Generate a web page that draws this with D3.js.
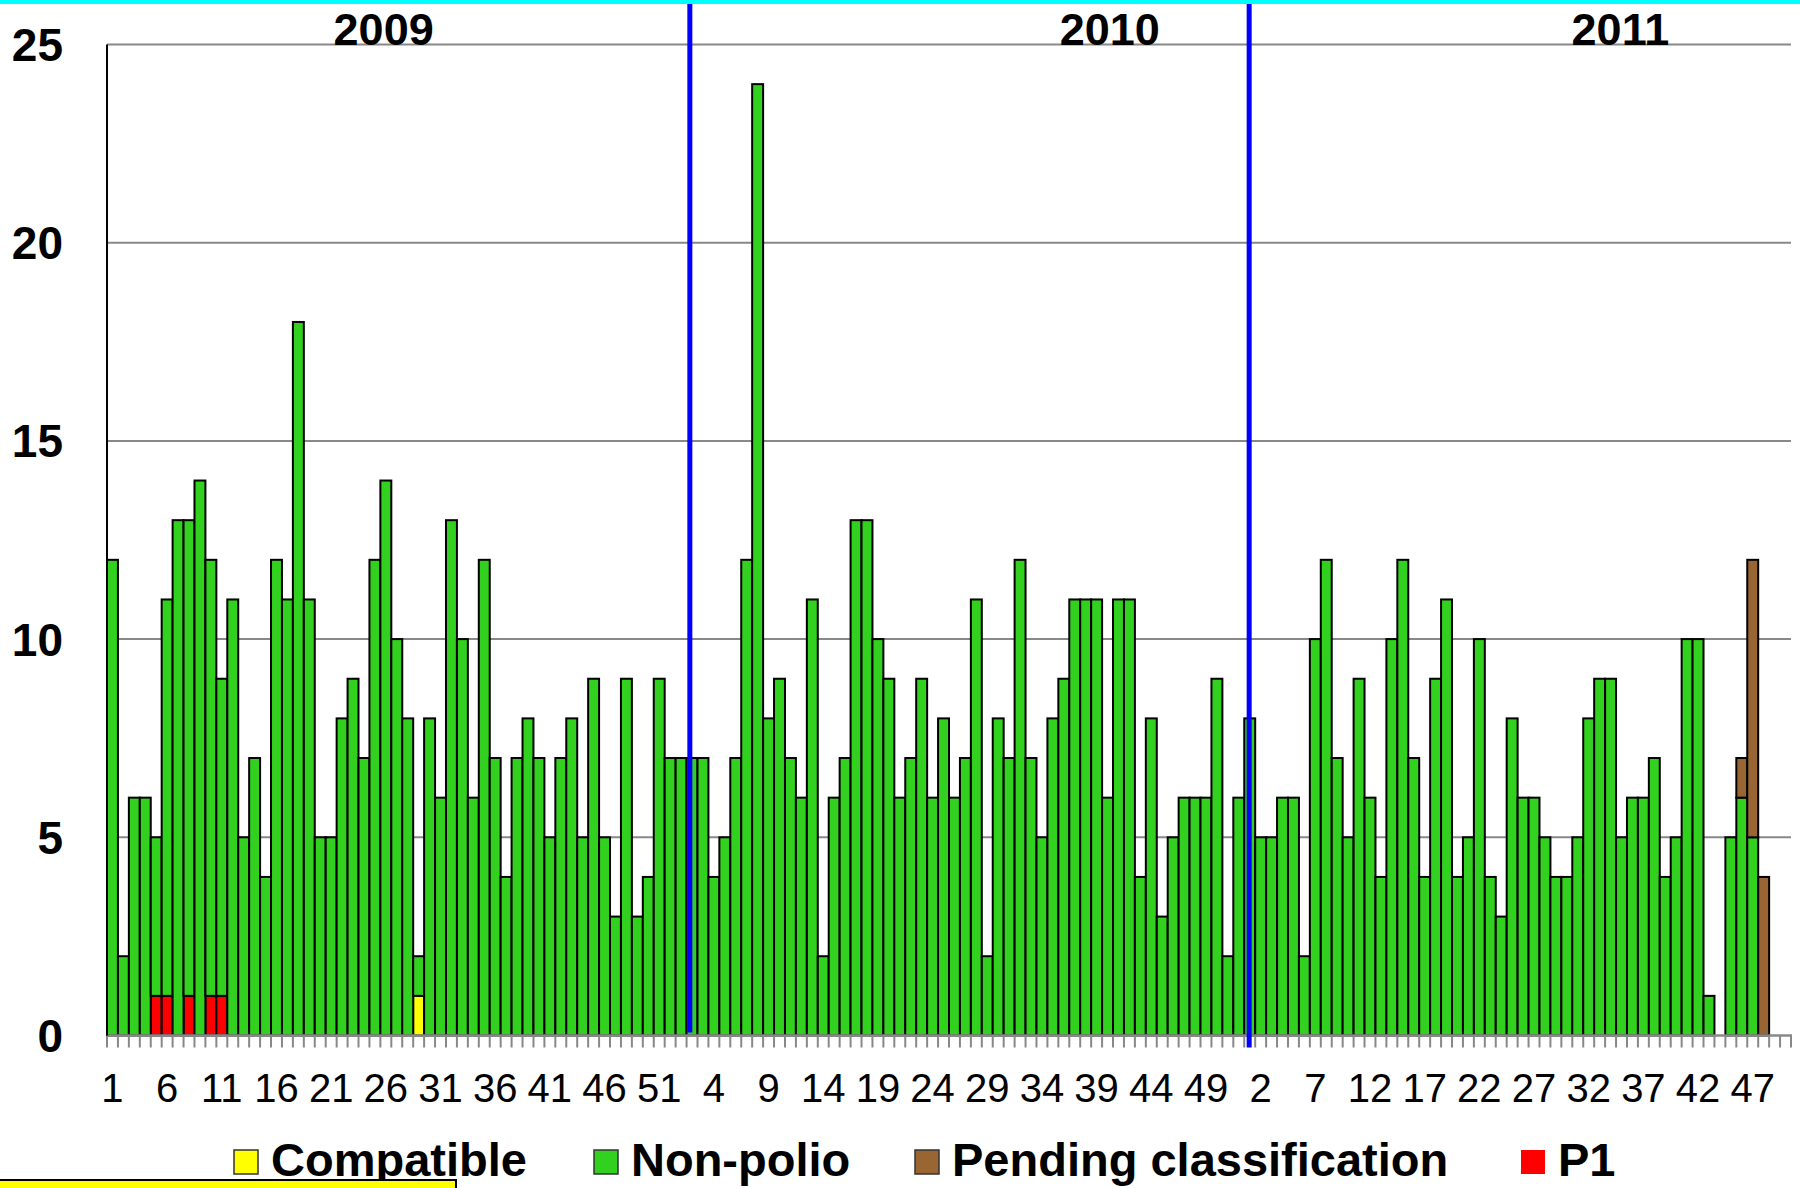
<!DOCTYPE html>
<html>
<head>
<meta charset="utf-8">
<script src="https://cdn.jsdelivr.net/npm/d3@7"></script>
<style>
  html, body { margin: 0; padding: 0; background: #fff; }
  svg { display: block; font-family: "Liberation Sans", Arial, sans-serif; }
</style>
</head>
<body>
<script>
////////////////   Data   ////////////////

var years = ["2009", "2010", "2011"],
    weeksPerYear = [52, 52, 50];

// non-polio AFP cases per epi week (green)
var nonPolio2009 = [12,2,6,6,4,10,13,12,14,11,8,11,5,7,4,12,11,18,11,5,5,8,9,7,12,14,10,8,1,8,6,13,10,6,12,7,4,7,8,7,5,7,8,5,9,5,3,9,3,4,9,7];
var nonPolio2010 = [7,7,7,4,5,7,12,24,8,9,7,6,11,2,6,7,13,13,10,9,6,7,9,6,8,6,7,11,2,8,7,12,7,5,8,9,11,11,11,6,11,11,4,8,3,5,6,6,6,9,2,6];
var nonPolio2011 = [8,5,5,6,6,2,10,12,7,5,9,6,4,10,12,7,4,9,11,4,5,10,4,3,8,6,6,5,4,4,5,8,9,9,5,6,6,7,4,5,10,10,1,0,5,6,5,0,0,0];

// the few non-green cases: [year, week, count]
var p1Cases = [["2009",5,1],["2009",6,1],["2009",8,1],["2009",10,1],["2009",11,1]];
var compatibleCases = [["2009",29,1]];
var pendingCases = [["2011",46,1],["2011",47,7],["2011",48,4]];

var yTicks = [0, 5, 10, 15, 20, 25];
var tickLabelEvery = 5;

var seriesKeys = ["p1", "compatible", "nonPolio", "pending"];   // stacking order, bottom up
var legendKeys = ["compatible", "nonPolio", "pending", "p1"];
var legendNames = {compatible: "Compatible", nonPolio: "Non-polio", pending: "Pending classification", p1: "P1"};

var colors = {
    compatible: "#FFFF00",
    nonPolio: "#33D11F",
    pending: "#996633",
    p1: "#FF0000",
    grid: "#888888",
    divider: "#0000FF",
    topBar: "#00FFFF"
};

// year dividers and year titles, in category units (hand drawn on the original)
var yearDividers = [{at: 53.3, end: -3}, {at: 104.45, end: 12}];
var yearTitleAt = [25.3, 91.7, 138.4];

////////////////   Build table   ////////////////

var nonPolioByYear = {"2009": nonPolio2009, "2010": nonPolio2010, "2011": nonPolio2011};
var rows = [];
years.forEach(function(yr, k) {
    for (var w = 1; w <= weeksPerYear[k]; w++) {
        rows.push({year: yr, week: w, p1: 0, compatible: 0, pending: 0, nonPolio: nonPolioByYear[yr][w - 1]});
    }
});
function addCases(list, key) {
    list.forEach(function(c) {
        var r = rows.find(function(d) { return d.year == c[0] && d.week == c[1]; });
        if (r) r[key] = c[2];
    });
}
addCases(p1Cases, "p1");
addCases(compatibleCases, "compatible");
addCases(pendingCases, "pending");
rows.forEach(function(d, i) { d.idx = i; });

////////////////   Layout   ////////////////

var W = 1800, H = 1188;
var plotLeft = 107, plotRight = 1791, plotTop = 44.5, plotBottom = 1035.5;

var svg = d3.select("body").append("svg")
    .attr("width", W)
    .attr("height", H);

var x = d3.scaleBand()
    .domain(rows.map(function(d) { return d.idx; }))
    .range([plotLeft, plotRight])
    .padding(0);

var y = d3.scaleLinear()
    .domain([0, 25])
    .range([plotBottom, plotTop]);

function xAt(u) { return plotLeft + u * x.step(); }

// top cyan strip
svg.append("rect")
    .attr("x", 0).attr("y", 0)
    .attr("width", W).attr("height", 4)
    .attr("fill", colors.topBar);

// gridlines
svg.append("g")
    .selectAll("line")
    .data(yTicks.filter(function(t) { return t > 0; }))
    .enter().append("line")
    .attr("x1", plotLeft).attr("x2", plotRight)
    .attr("y1", function(d) { return y(d); })
    .attr("y2", function(d) { return y(d); })
    .attr("stroke", colors.grid)
    .attr("stroke-width", 2);

// bars
var stacked = d3.stack().keys(seriesKeys)(rows);

svg.append("g")
    .selectAll("g")
    .data(stacked)
    .enter().append("g")
    .attr("fill", function(s) { return colors[s.key]; })
    .selectAll("rect")
    .data(function(s) { return s.filter(function(d) { return d[1] > d[0]; }); })
    .enter().append("rect")
    .attr("x", function(d) { return x(d.data.idx); })
    .attr("width", x.bandwidth())
    .attr("y", function(d) { return y(d[1]); })
    .attr("height", function(d) { return y(d[0]) - y(d[1]); })
    .attr("stroke", "#000")
    .attr("stroke-width", 2);

// x axis: gray baseline with ticks on every category boundary
var xAxis = d3.axisBottom(x)
    .tickSize(0)
    .tickFormat(function(i) { return i % tickLabelEvery == 0 ? rows[i].week : ""; });

var gx = svg.append("g")
    .attr("transform", "translate(0," + plotBottom + ")")
    .call(xAxis);
gx.select(".domain").remove();
gx.selectAll("text")
    .attr("y", 66)
    .attr("dy", 0)
    .attr("font-size", 40)
    .attr("font-family", "Liberation Sans, Arial, sans-serif")
    .attr("fill", "#000");

svg.append("g")
    .selectAll("line")
    .data(d3.range(rows.length + 1))
    .enter().append("line")
    .attr("x1", function(d) { return xAt(d); })
    .attr("x2", function(d) { return xAt(d); })
    .attr("y1", plotBottom)
    .attr("y2", plotBottom + 12)
    .attr("stroke", colors.grid)
    .attr("stroke-width", 2);

svg.append("line")
    .attr("x1", plotLeft).attr("x2", plotRight + 1)
    .attr("y1", plotBottom).attr("y2", plotBottom)
    .attr("stroke", colors.grid)
    .attr("stroke-width", 2.5);

// y axis
svg.append("line")
    .attr("x1", plotLeft).attr("x2", plotLeft)
    .attr("y1", y(25)).attr("y2", plotBottom)
    .attr("stroke", "#000")
    .attr("stroke-width", 2);

svg.append("g")
    .selectAll("text")
    .data(yTicks)
    .enter().append("text")
    .attr("x", 63)
    .attr("y", function(d) { return y(d); })
    .attr("dy", "0.36em")
    .attr("text-anchor", "end")
    .attr("font-size", 46)
    .attr("font-weight", "bold")
    .text(function(d) { return d; });

// year dividers
svg.append("g")
    .selectAll("line")
    .data(yearDividers)
    .enter().append("line")
    .attr("x1", function(d) { return xAt(d.at); })
    .attr("x2", function(d) { return xAt(d.at); })
    .attr("y1", 4)
    .attr("y2", function(d) { return plotBottom + d.end; })
    .attr("stroke", colors.divider)
    .attr("stroke-width", 5);

// year titles
svg.append("g")
    .selectAll("text")
    .data(years)
    .enter().append("text")
    .attr("x", function(d, i) { return xAt(yearTitleAt[i]); })
    .attr("y", 45)
    .attr("text-anchor", "middle")
    .attr("font-size", 45)
    .attr("font-weight", "bold")
    .text(function(d) { return d; });

// legend
var legendX = [234, 594, 915, 1521];
var legend = svg.append("g")
    .selectAll("g")
    .data(legendKeys)
    .enter().append("g")
    .attr("transform", function(d, i) { return "translate(" + legendX[i] + ",1150)"; });

legend.append("rect")
    .attr("width", 24).attr("height", 24)
    .attr("fill", function(d) { return colors[d]; })
    .attr("stroke", function(d) { return d == "p1" ? "none" : "#333"; })
    .attr("stroke-width", 1.5);

legend.append("text")
    .attr("x", 37)
    .attr("y", 26)
    .attr("font-size", 47)
    .attr("font-weight", "bold")
    .text(function(d) { return legendNames[d]; });

// yellow box cut off at the bottom left
svg.append("rect")
    .attr("x", -2).attr("y", 1180)
    .attr("width", 458).attr("height", 20)
    .attr("fill", "#FFFF00")
    .attr("stroke", "#000")
    .attr("stroke-width", 2);
</script>
</body>
</html>
